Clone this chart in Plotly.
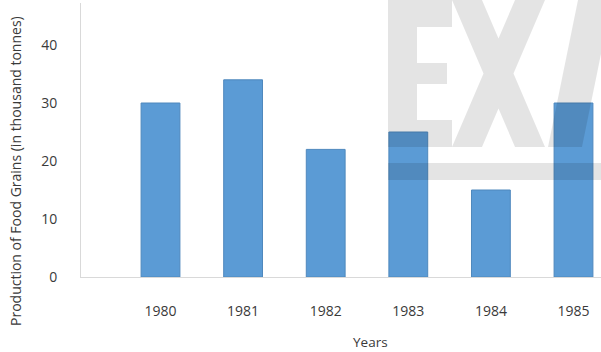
import plotly.graph_objects as go

years = [1980, 1981, 1982, 1983, 1984, 1985]
year_labels = ["1980", "1981", "1982", "1983", "1984", "1985"]
production = [30, 34, 22, 25, 15, 30]
y_ticks = [0, 10, 20, 30, 40]

W, H = 601, 352
L, R, T, B = 81, 0, 3, 75
PW, PH = W - L - R, H - T - B


def px(x):
    return (x - L) / PW


def py(y):
    return (H - B - y) / PH


def path(points):
    s = "M " + " L ".join(f"{px(a):.5f},{py(b):.5f}" for a, b in points) + " Z"
    return s


fig = go.Figure()
fig.add_trace(go.Bar(
    x=years, y=production, width=0.47,
    marker=dict(color="#5b9bd5", line=dict(color="#4f88bd", width=1)),
    showlegend=False, hoverinfo="x+y",
))

wm = "rgba(0,0,0,0.105)"
E = [(388, 0), (452, 0), (452, 27), (417, 27), (417, 63), (447, 63), (447, 84),
     (417, 84), (417, 120), (452, 120), (452, 147), (388, 147)]
X = [(452, 0), (482, 0), (498.5, 38.5), (515, 0), (545, 0), (513.5, 73.5),
     (545, 147), (515, 147), (498.5, 108.5), (482, 147), (452, 147), (483.5, 73.5)]
A = [(578, 0), (612, 0), (582, 147), (548, 147)]
BAR = [(388, 163), (612, 163), (612, 180), (388, 180)]
shapes = []
for poly in (E, X, A, BAR):
    shapes.append(dict(type="path", xref="paper", yref="paper", path=path(poly),
                       fillcolor=wm, line=dict(width=0), layer="above"))

font = "Open Sans, Arial, sans-serif"
txt = "#3a3a3a"
fig.update_layout(
    width=W, height=H,
    margin=dict(l=L, r=R, t=T, b=B, pad=0),
    paper_bgcolor="white", plot_bgcolor="white",
    font=dict(family=font, size=13, color=txt),
    bargap=0.5,
    shapes=shapes,
    xaxis=dict(
        range=[1979.0375, 1985.333],
        tickvals=years, ticktext=year_labels,
        showgrid=False, zeroline=False,
        showline=True, linecolor="#d9d9d9", linewidth=1,
        ticks="", ticklabelstandoff=21,
        tickfont=dict(size=14, color=txt),
    ),
    yaxis=dict(
        range=[0, PH / 5.8],
        tickvals=y_ticks,
        showgrid=False, zeroline=False,
        showline=True, linecolor="#d9d9d9", linewidth=1,
        ticks="", ticklabelstandoff=20,
        tickfont=dict(size=14, color=txt),
    ),
    annotations=[
        dict(text="Years", xref="paper", yref="paper", x=px(370), y=py(342),
             showarrow=False, xanchor="center", yanchor="middle",
             font=dict(size=13.5, color=txt)),
        dict(text="Production of Food Grains (in thousand tonnes)", xref="paper", yref="paper",
             x=px(16), y=py(171), textangle=-90, showarrow=False,
             xanchor="center", yanchor="middle",
             font=dict(size=14, color=txt)),
    ],
)

fig.write_html("out.html", config={"displayModeBar": False},
               post_script="document.body.style.margin='0';document.body.style.overflow='hidden';")
